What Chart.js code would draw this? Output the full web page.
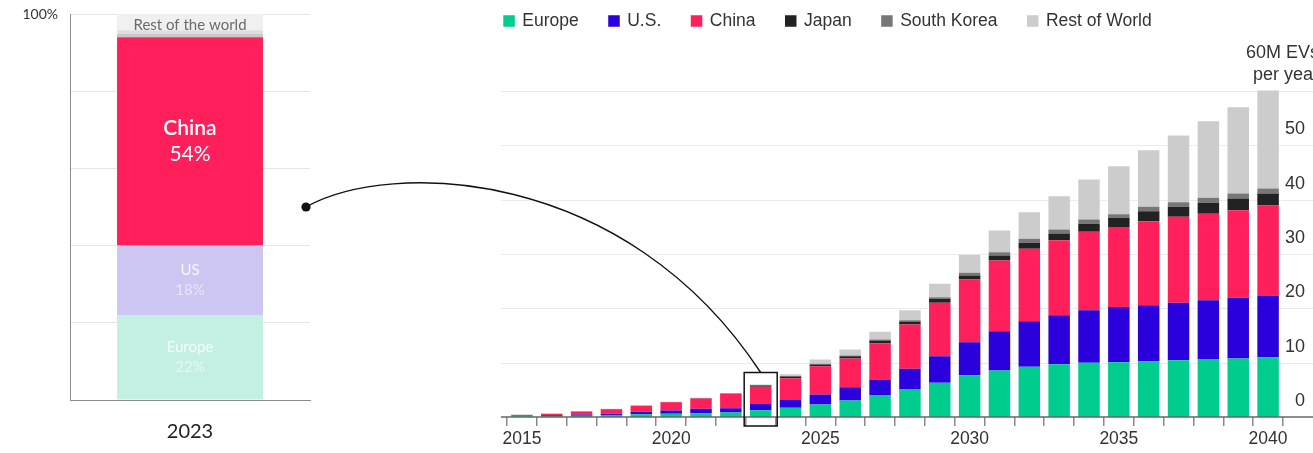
<!DOCTYPE html>
<html>
<head>
<meta charset="utf-8">
<title>EV sales outlook</title>
<script src="https://cdn.jsdelivr.net/npm/chart.js@4.4.1/dist/chart.umd.min.js"></script>
<style>
  html, body { margin: 0; padding: 0; background: #fff; }
  body { position: relative; width: 1313px; height: 453px; overflow: hidden; }
  canvas { position: absolute; top: 0; }
  #share-chart { left: 0; }
  #sales-chart { left: 490px; }
  #connector { left: 0; pointer-events: none; }
</style>
</head>
<body>
<canvas id="share-chart" width="320" height="453"></canvas>
<canvas id="sales-chart" width="823" height="453"></canvas>
<canvas id="connector" width="1313" height="453"></canvas>

<script>
/* ============================================================
   EV sales by region, 2015-2040 + 2023 regional share
   ============================================================ */

// --- 2023 share (percent) ---
const shareYear = ['2023'];
const shareLabels = ['Europe', 'US', 'China', 'Japan', 'South Korea', 'Rest of the world'];
const shareValues = [22, 18, 54, 0.9, 0.9, 4.2];

// --- Annual sales, millions of EVs ---
const years = ['2015', '2016', '2017', '2018', '2019', '2020', '2021', '2022', '2023', '2024',
  '2025', '2026', '2027', '2028', '2029', '2030', '2031', '2032', '2033', '2034',
  '2035', '2036', '2037', '2038', '2039', '2040'];
const regions = ['Europe', 'U.S.', 'China', 'Japan', 'South Korea', 'Rest of World'];
const europe = [0.12, 0.2, 0.25, 0.37, 0.52, 0.59, 0.7, 0.83, 1.25, 1.7,
  2.3, 3.04, 3.96, 5.06, 6.3, 7.69, 8.56, 9.24, 9.72, 9.98,
  10.09, 10.27, 10.45, 10.58, 10.77, 11.01];
const us = [0.1, 0.12, 0.2, 0.25, 0.44, 0.61, 0.81, 0.79, 1.23, 1.53,
  1.84, 2.45, 2.94, 3.81, 4.9, 6.07, 7.23, 8.39, 9.02, 9.68,
  10.16, 10.31, 10.56, 10.91, 11.17, 11.36];
const china = [0.15, 0.27, 0.55, 0.8, 1.1, 1.5, 1.9, 2.6, 3.07, 3.92,
  5.2, 5.28, 6.68, 8.15, 9.83, 11.54, 13.01, 13.33, 13.8, 14.43,
  14.72, 15.46, 15.83, 15.9, 16.12, 16.57];
const japan = [0.02, 0.02, 0.03, 0.04, 0.03, 0.04, 0.05, 0.08, 0.25, 0.3,
  0.33, 0.4, 0.5, 0.55, 0.73, 0.74, 0.92, 1.1, 1.23, 1.47,
  1.69, 1.84, 1.84, 2.02, 2.15, 2.21];
const korea = [0.01, 0.01, 0.01, 0.01, 0.01, 0.02, 0.02, 0.03, 0.08, 0.1,
  0.11, 0.15, 0.18, 0.24, 0.3, 0.5, 0.61, 0.74, 0.74, 0.79,
  0.66, 0.81, 0.85, 0.92, 0.92, 0.92];
const rest = [0.03, 0.03, 0.04, 0.04, 0.02, 0.04, 0.05, 0.07, 0.1, 0.34,
  0.8, 1.1, 1.42, 1.84, 2.47, 3.31, 3.99, 4.9, 6.13, 7.36,
  8.83, 10.42, 12.28, 14.1, 15.88, 18.04];
const yTicks = [0, 10, 20, 30, 40, 50, 60];
const topNote = ['60M EVs', 'per year'];
const focusYear = '2023';

const SANS = '"Liberation Sans", Arial, sans-serif';
const ROUND = 'Lato, "Open Sans", sans-serif';

// =========================================================
// Left: 2023 share bar
// =========================================================
const shareColors = ['#c4f0e3', '#cdc6f3', '#ff1f5a', '#c9c9c9', '#dedede', '#f0f0f0'];

const shareLabelPlugin = {
  id: 'shareLabels',
  afterDatasetsDraw(chart) {
    const ctx = chart.ctx;
    ctx.save();
    ctx.textAlign = 'center';
    ctx.textBaseline = 'middle';
    chart.data.datasets.forEach((ds, i) => {
      const el = chart.getDatasetMeta(i).data[0];
      if (!el) return;
      const cx = el.x;
      const cy = (el.y + el.base) / 2;
      const pct = ds.data[0] + '%';
      if (ds.label === 'China') {
        ctx.fillStyle = '#fff';
        ctx.font = '600 21px ' + ROUND;
        ctx.fillText('China', cx, cy - 13);
        ctx.font = '21px ' + ROUND;
        ctx.fillText(pct, cx, cy + 13);
      } else if (ds.label === 'US' || ds.label === 'Europe') {
        ctx.font = '15px ' + ROUND;
        ctx.fillStyle = 'rgba(255,255,255,0.85)';
        ctx.fillText(ds.label, cx, cy - 10);
        ctx.fillStyle = 'rgba(255,255,255,0.55)';
        ctx.fillText(pct, cx, cy + 10);
      } else if (ds.label === 'Rest of the world') {
        ctx.font = '15px ' + ROUND;
        ctx.fillStyle = '#6b6b6b';
        ctx.fillText(ds.label, cx, cy + 3);
      }
    });
    ctx.restore();
  },
};

const shareChart = new Chart(document.getElementById('share-chart').getContext('2d'), {
  type: 'bar',
  data: {
    labels: shareYear,
    datasets: shareLabels.map((label, i) => ({
      label,
      data: [shareValues[i]],
      backgroundColor: shareColors[i],
      borderWidth: 0,
      barPercentage: 0.608,
      categoryPercentage: 1,
    })),
  },
  options: {
    responsive: false,
    animation: false,
    layout: { padding: { top: 14, right: 10 } },
    plugins: { legend: { display: false }, tooltip: { enabled: false } },
    scales: {
      x: {
        stacked: true,
        grid: { display: false, drawTicks: false },
        border: { display: true, color: '#8c8c8c', width: 1 },
        ticks: { padding: 20, color: '#222', font: { family: ROUND, size: 20 } },
        afterFit(s) { s.height = 53; },
      },
      y: {
        stacked: true,
        min: 0,
        max: 100,
        grid: { color: '#e6e6e6', drawTicks: false },
        border: { display: true, color: '#8c8c8c', width: 1 },
        ticks: {
          stepSize: 20,
          padding: 12,
          color: '#333',
          font: { family: ROUND, size: 14 },
          callback: v => (v === 100 ? '100%' : ''),
        },
        afterFit(s) {
          s.width = 70;
          s.paddingTop = 0;
          s.paddingBottom = 0;
        },
      },
    },
  },
  plugins: [shareLabelPlugin],
});

// =========================================================
// Right: annual sales by region
// =========================================================
const salesColors = ['#00cc8e', '#2a00dc', '#ff1f5b', '#222222', '#777777', '#cccccc'];
const salesSeries = [europe, us, china, japan, korea, rest];

// box drawn round the focus year's bar
function focusBox(chart) {
  const i = years.indexOf(focusYear);
  const x = chart.scales.x.getPixelForValue(i);
  const total = salesSeries.reduce((sum, s) => sum + s[i], 0);
  return {
    left: x - 16.5,
    right: x + 16.5,
    top: chart.scales.y.getPixelForValue(total) - 12,
    bottom: chart.scales.y.getPixelForValue(0) + 9,
  };
}

const salesDecorPlugin = {
  id: 'salesDecor',
  beforeDatasetsDraw(chart) {
    // gridlines run past the plot on both sides
    const { ctx, chartArea } = chart;
    const y = chart.scales.y;
    ctx.save();
    ctx.strokeStyle = '#ececec';
    ctx.lineWidth = 1;
    y.ticks.forEach(t => {
      if (t.value === 0) return;
      const py = Math.round(y.getPixelForValue(t.value)) + 0.5;
      ctx.beginPath();
      ctx.moveTo(chartArea.left - 6, py);
      ctx.lineTo(chart.width, py);
      ctx.stroke();
    });
    ctx.restore();
  },
  afterDatasetsDraw(chart) {
    const { ctx, chartArea } = chart;
    const y = chart.scales.y;
    ctx.save();
    // baseline
    const base = y.getPixelForValue(0);
    ctx.strokeStyle = '#666';
    ctx.lineWidth = 1.5;
    ctx.beginPath();
    ctx.moveTo(chartArea.left - 6, base);
    ctx.lineTo(chart.width, base);
    ctx.stroke();

    // focus box
    const b = focusBox(chart);
    ctx.strokeStyle = '#111';
    ctx.lineWidth = 1.5;
    ctx.strokeRect(b.left, b.top, b.right - b.left, b.bottom - b.top);

    // y labels sit just above their gridlines, right-aligned
    ctx.fillStyle = '#333';
    ctx.font = '18px ' + SANS;
    ctx.textAlign = 'right';
    ctx.textBaseline = 'middle';
    const last = yTicks[yTicks.length - 1];
    yTicks.forEach(v => {
      if (v === last) return;
      ctx.fillText(String(v), chartArea.right + 22, y.getPixelForValue(v) - 16);
    });

    // unit note above the top gridline
    const top = y.getPixelForValue(last);
    ctx.fillText(topNote[0], chartArea.right + 36, top - 38);
    ctx.fillText(topNote[1], chartArea.right + 36, top - 16);

    // legend row
    ctx.font = '17.5px ' + SANS;
    ctx.textAlign = 'left';
    let lx = chartArea.left - 3.7;
    const ly = 21;
    chart.data.datasets.forEach(ds => {
      ctx.fillStyle = ds.backgroundColor;
      ctx.fillRect(lx, ly - 5.75, 11.5, 11.5);
      ctx.fillStyle = '#333';
      ctx.fillText(ds.label, lx + 19, ly);
      lx += 19 + ctx.measureText(ds.label).width + 29.5;
    });
    ctx.restore();
  },
};

const salesChart = new Chart(document.getElementById('sales-chart').getContext('2d'), {
  type: 'bar',
  data: {
    labels: years,
    datasets: regions.map((label, i) => ({
      label,
      data: salesSeries[i],
      backgroundColor: salesColors[i],
      borderWidth: 0,
      barPercentage: 0.72,
      categoryPercentage: 1,
    })),
  },
  options: {
    responsive: false,
    animation: false,
    layout: { padding: { left: 17, top: 58.4 } },
    plugins: { legend: { display: false }, tooltip: { enabled: false } },
    scales: {
      x: {
        stacked: true,
        offset: true,
        grid: { display: true, drawOnChartArea: false, drawTicks: true, tickLength: 9, color: '#8a8a8a', lineWidth: 1.5, offset: true },
        border: { display: false },
        ticks: {
          autoSkip: false,
          maxRotation: 0,
          padding: 3,
          color: '#333',
          font: { family: SANS, size: 17.5 },
          callback: (v, i) => (Number(years[i]) % 5 === 0 ? years[i] : ''),
        },
        afterFit(s) { s.height = 36; },
      },
      y: {
        stacked: true,
        position: 'right',
        min: 0,
        max: 66,
        grid: { display: false, drawTicks: false },
        border: { display: false },
        afterBuildTicks(s) { s.ticks = yTicks.map(v => ({ value: v })); },
        ticks: { display: false },
        afterFit(s) { s.width = 30; },
      },
    },
  },
  plugins: [salesDecorPlugin],
});

// =========================================================
// Connector from the share bar to the focus year
// =========================================================
(function drawConnector() {
  const ctx = document.getElementById('connector').getContext('2d');
  const offset = document.getElementById('sales-chart').offsetLeft;
  const sx = shareChart.chartArea.right - 4;
  const sy = shareChart.scales.y.getPixelForValue(50);
  const b = focusBox(salesChart);
  const ex = offset + (b.left + b.right) / 2;
  const ey = b.top;

  ctx.strokeStyle = '#111';
  ctx.lineWidth = 1.4;
  ctx.beginPath();
  ctx.moveTo(sx, sy);
  ctx.bezierCurveTo(sx + 84, sy - 47, ex - 136, ey - 207, ex, ey);
  ctx.stroke();

  ctx.fillStyle = '#111';
  ctx.beginPath();
  ctx.arc(sx, sy, 4.6, 0, Math.PI * 2);
  ctx.fill();
})();
</script>
</body>
</html>
